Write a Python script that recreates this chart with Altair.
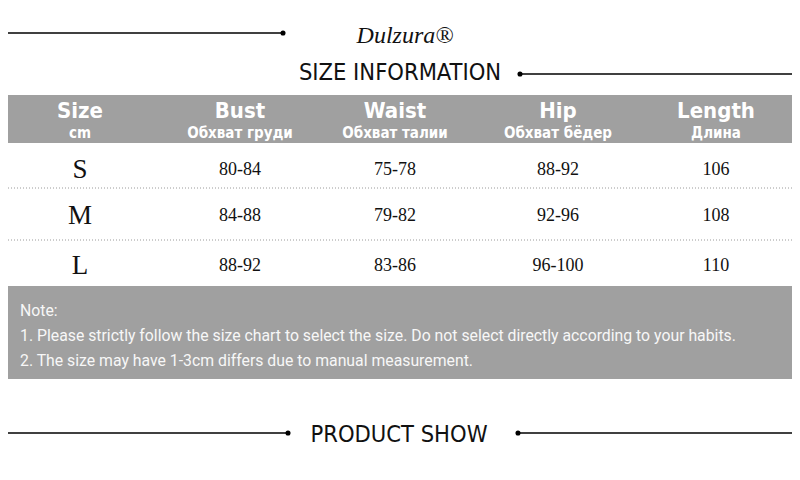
import altair as alt
import pandas as pd

# ---- content ----
brand = "Dulzura®"
title_top = "SIZE INFORMATION"
title_bottom = "PRODUCT SHOW"
headers_en = ["Size", "Bust", "Waist", "Hip", "Length"]
headers_ru = ["cm", "Обхват груди", "Обхват талии", "Обхват бёдер", "Длина"]
sizes = ["S", "M", "L"]
bust = ["80-84", "84-88", "88-92"]
waist = ["75-78", "79-82", "83-86"]
hip = ["88-92", "92-96", "96-100"]
length = ["106", "108", "110"]
notes = [
    "Note:",
    "1. Please strictly follow the size chart to select the size. Do not select directly according to your habits.",
    "2. The size may have 1-3cm differs due to manual measurement.",
]

# ---- layout (pixel positions of the infographic, page coordinates) ----
PAGE_W, PAGE_H = 800, 480
M = 8  # page margin
W, H = PAGE_W - 2 * M, PAGE_H - 2 * M
col_x = [80, 240, 395, 558, 716]
row_y = [170, 216, 266]
GRAY = "#a0a0a0"
SANS_C = "Liberation Sans Narrow, DejaVu Sans Condensed, Roboto, sans-serif"
SERIF = "Liberation Serif, DejaVu Serif, serif"

xs = alt.Scale(domain=[M, M + W])
ys = alt.Scale(domain=[M, M + H], reverse=True)
X = lambda f: alt.X(f, type="quantitative", scale=xs, axis=None)
Y = lambda f: alt.Y(f, type="quantitative", scale=ys, axis=None)

# bands
bands = pd.DataFrame({"x": [M, M], "x2": [M + W, M + W], "y": [95, 286], "y2": [143, 379]})
band_layer = alt.Chart(bands).mark_rect(color=GRAY).encode(
    x=X("x"), x2="x2", y=Y("y"), y2="y2"
)

# decorative lines
lines = pd.DataFrame({"x": [M, 520, M, 518], "x2": [283, M + W, 288, M + W], "y": [33, 74, 433, 433]})
line_layer = alt.Chart(lines).mark_rule(color="#000", strokeWidth=1.3).encode(
    x=X("x"), x2="x2", y=Y("y")
)
dots = pd.DataFrame({"x": [283, 520, 288, 518], "y": [33, 74, 433, 433]})
dot_layer = alt.Chart(dots).mark_circle(color="#000", size=26, opacity=1).encode(
    x=X("x"), y=Y("y")
)

# dotted separators
seps = pd.DataFrame({"x": [M, M], "x2": [M + W, M + W], "y": [188, 240]})
sep_layer = alt.Chart(seps).mark_rule(color="#9a9a9a", strokeWidth=1, strokeDash=[1, 2]).encode(
    x=X("x"), x2="x2", y=Y("y")
)

# titles
brand_layer = alt.Chart(pd.DataFrame({"t": [brand], "x": [405], "y": [36]})).mark_text(
    font=SERIF, fontSize=24, fontStyle="italic", color="#111", baseline="middle"
).encode(x=X("x"), y=Y("y"), text="t:N")

titles = pd.DataFrame({"t": [title_top, title_bottom], "x": [400, 399], "y": [73, 435]})
title_layer = alt.Chart(titles).mark_text(
    font=SANS_C, fontSize=23.5, color="#111", baseline="middle"
).encode(x=X("x"), y=Y("y"), text="t:N")

# header text
hdr = pd.DataFrame({"t": headers_en, "r": headers_ru, "x": col_x})
hdr1 = alt.Chart(hdr).mark_text(
    font=SANS_C, fontSize=22, fontWeight="bold", color="white", baseline="middle"
).encode(x=X("x"), y=alt.value(111 - M), text="t:N")
hdr2 = alt.Chart(hdr).mark_text(
    font=SANS_C, fontSize=15, fontWeight="bold", color="white", baseline="middle"
).encode(x=X("x"), y=alt.value(133 - M), text="r:N")

# table cells
cells = []
for i in range(3):
    cells.append({"t": sizes[i], "x": col_x[0], "y": row_y[i], "k": "size"})
    for j, col in enumerate([bust, waist, hip, length]):
        cells.append({"t": col[i], "x": col_x[j + 1], "y": row_y[i], "k": "val"})
cells = pd.DataFrame(cells)
size_layer = alt.Chart(cells).transform_filter("datum.k == 'size'").mark_text(
    font=SERIF, fontSize=27, color="#111", baseline="middle"
).encode(x=X("x"), y=Y("y"), text="t:N")
val_layer = alt.Chart(cells).transform_filter("datum.k == 'val'").mark_text(
    font=SERIF, fontSize=18, color="#111", baseline="middle"
).encode(x=X("x"), y=Y("y"), text="t:N")

# notes
note_df = pd.DataFrame({"t": notes, "x": [20, 20, 20], "y": [311, 336, 361]})
note_layer = alt.Chart(note_df).mark_text(
    font="Roboto, sans-serif", fontSize=15.8, color="#f7f7f7", align="left", baseline="middle"
).encode(x=X("x"), y=Y("y"), text="t:N")

chart = alt.layer(
    band_layer, sep_layer, line_layer, dot_layer, brand_layer, title_layer,
    hdr1, hdr2, size_layer, val_layer, note_layer
).properties(
    width=W, height=H, padding=0, autosize=alt.AutoSizeParams(type="none"), background="white"
).configure_view(stroke=None)

chart.save("out.html", embed_options={"renderer": "svg", "actions": False})
